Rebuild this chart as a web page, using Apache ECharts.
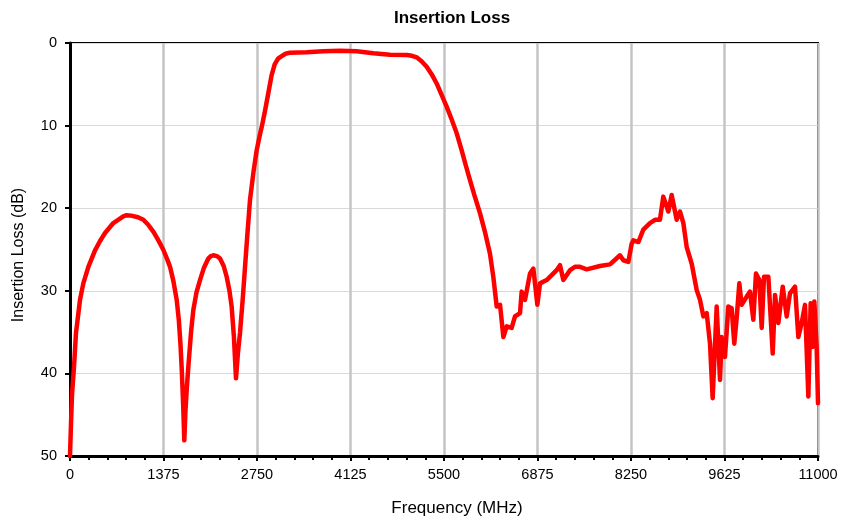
<!DOCTYPE html>
<html>
<head>
<meta charset="utf-8">
<script src="https://cdn.jsdelivr.net/npm/echarts@6/dist/echarts.min.js"></script>
<style>html,body{margin:0;padding:0;background:#fff}#c{width:841px;height:522px}</style>
</head>
<body>
<div id="c"></div>
<script>
var titleText = 'Insertion Loss';
var xAxisName = 'Frequency (MHz)';
var yAxisName = 'Insertion Loss (dB)';
var xTicks = [0, 1375, 2750, 4125, 5500, 6875, 8250, 9625, 11000];
var yTicks = [0, 10, 20, 30, 40, 50];

var freq = [0,15,30,59,88,147,196,270,368,440,515,637,784,833,900,1000,1078,1150,1230,1300,1370,1430,1471,1520,1569,1600,1625,1645,1665,1681,1698,1720,1740,1780,1814,1860,1912,1970,2034,2070,2108,2160,2206,2260,2304,2345,2377,2410,2441,2470,2500,2540,2574,2610,2647,2700,2745,2790,2824,2868,2920,2965,3010,3060,3113,3170,3235,3480,3725,3971,4216,4461,4706,4951,5030,5098,5170,5245,5320,5392,5460,5539,5610,5686,5760,5820,5882,5950,6029,6100,6176,6225,6275,6324,6373,6422,6495,6544,6618,6642,6691,6765,6814,6873,6912,7010,7157,7206,7255,7353,7426,7500,7598,7794,7941,8088,8137,8211,8260,8284,8358,8431,8529,8603,8676,8725,8799,8848,8922,8971,9020,9069,9142,9216,9265,9314,9363,9412,9451,9510,9559,9583,9632,9681,9730,9769,9804,9843,9877,9951,10000,10049,10088,10137,10172,10206,10270,10334,10368,10417,10481,10540,10588,10662,10711,10760,10809,10858,10892,10922,10946,10980,11000];
var loss = [50,46,42.5,39.2,35.1,31.1,29.1,27.1,25.1,24,23.0,21.8,21.0,20.85,20.9,21.1,21.4,22,22.9,23.9,25.0,26.2,27.1,28.8,31.1,33.5,36.5,39.8,44,48.1,44.5,41.5,39.2,35,32.3,30.2,28.7,27.2,26.1,25.8,25.7,25.8,26.1,27,28.3,30,31.9,35.5,40.6,37.5,35.1,31,27.1,23,19.0,15.5,13.0,11.2,10,8.2,5.9,3.9,2.6,1.9,1.6,1.3,1.17,1.13,1.0,0.93,1.0,1.25,1.41,1.45,1.55,1.73,2.2,2.87,3.8,4.9,6.2,7.7,9.2,10.9,13.0,14.8,16.6,18.5,20.6,22.8,25.5,28.3,31.9,31.7,35.6,34.3,34.5,33.1,32.7,30.1,31.1,27.9,27.3,31.7,29.1,28.7,27.5,26.9,28.7,27.5,27.1,27.1,27.4,27.0,26.8,25.7,26.3,26.5,24.3,23.9,24.1,22.6,21.8,21.4,21.4,18.6,20.4,18.4,21.4,20.4,21.8,24.7,26.7,29.9,31.1,33.1,32.7,36.4,43.0,31.9,40.8,35.6,38.0,31.9,32.1,36.4,33.3,29.1,31.7,30.7,30.1,33.5,27.9,28.7,34.5,28.3,28.3,37.6,30.5,33.9,29.5,33.1,30.3,29.5,35.6,33.9,31.7,42.8,31.5,36.8,31.3,36.8,43.6];

var pts = freq.map(function(f, i){ return [f, loss[i]]; });
var font = 'Arial, "Liberation Sans", sans-serif';
var chart = echarts.init(document.getElementById('c'), null, {renderer:'canvas'});
chart.setOption({
  animation: false,
  backgroundColor: '#fff',
  title: { text: titleText, left: 447, top: 5, textAlign: 'center',
    textStyle: { fontFamily: font, fontSize: 17, fontWeight: 'bold', color: '#000' } },
  graphic: [{
    type: 'text', x: 19, y: 255, rotation: Math.PI / 2,
    style: { text: yAxisName, fontFamily: font, fontSize: 16, fill: '#000', align: 'center', verticalAlign: 'middle' }
  }],
  grid: { left: 70, right: 23, top: 43, bottom: 66, show: true, borderColor: '#000', borderWidth: 2, backgroundColor: 'transparent' },
  xAxis: {
    type: 'value', min: xTicks[0], max: xTicks[xTicks.length-1], interval: 1375,
    name: xAxisName, nameLocation: 'middle', nameGap: 44,
    nameTextStyle: { fontFamily: font, fontSize: 17, color: '#000', padding:[0,0,0,26] },
    axisLine: { show: true, onZero: false, lineStyle: { color: '#000', width: 3 } },
    axisTick: { show: true, inside: false, length: 5, lineStyle: { color: '#000', width: 2 } },
    minorTick: { show: true, splitNumber: 5, length: 4, lineStyle: { color: '#000', width: 2 } },
    axisLabel: { fontFamily: font, fontSize: 14.5, color: '#000', margin: 11,
      formatter: function(v){ return String(v); } },
    splitLine: { show: true, lineStyle: { color: '#c4c4c4', width: 2.5 } }
  },
  yAxis: {
    type: 'value', inverse: true, min: yTicks[0], max: yTicks[yTicks.length-1], interval: 10,
    axisLine: { show: true, onZero: false, lineStyle: { color: '#000', width: 3 } },
    axisTick: { show: true, inside: false, length: 5, lineStyle: { color: '#000', width: 2 } },
    axisLabel: { fontFamily: font, fontSize: 14.5, color: '#000', margin: 13 },
    splitLine: { show: true, lineStyle: { color: '#d9d9d9', width: 1 } }
  },
  series: [{
    type: 'line', data: pts, showSymbol: false, symbol: 'none', smooth: false,
    clip: true,
    lineStyle: { color: '#ff0000', width: 4.5, join: 'round', cap: 'round' }
  }]
});
</script>
</body>
</html>
